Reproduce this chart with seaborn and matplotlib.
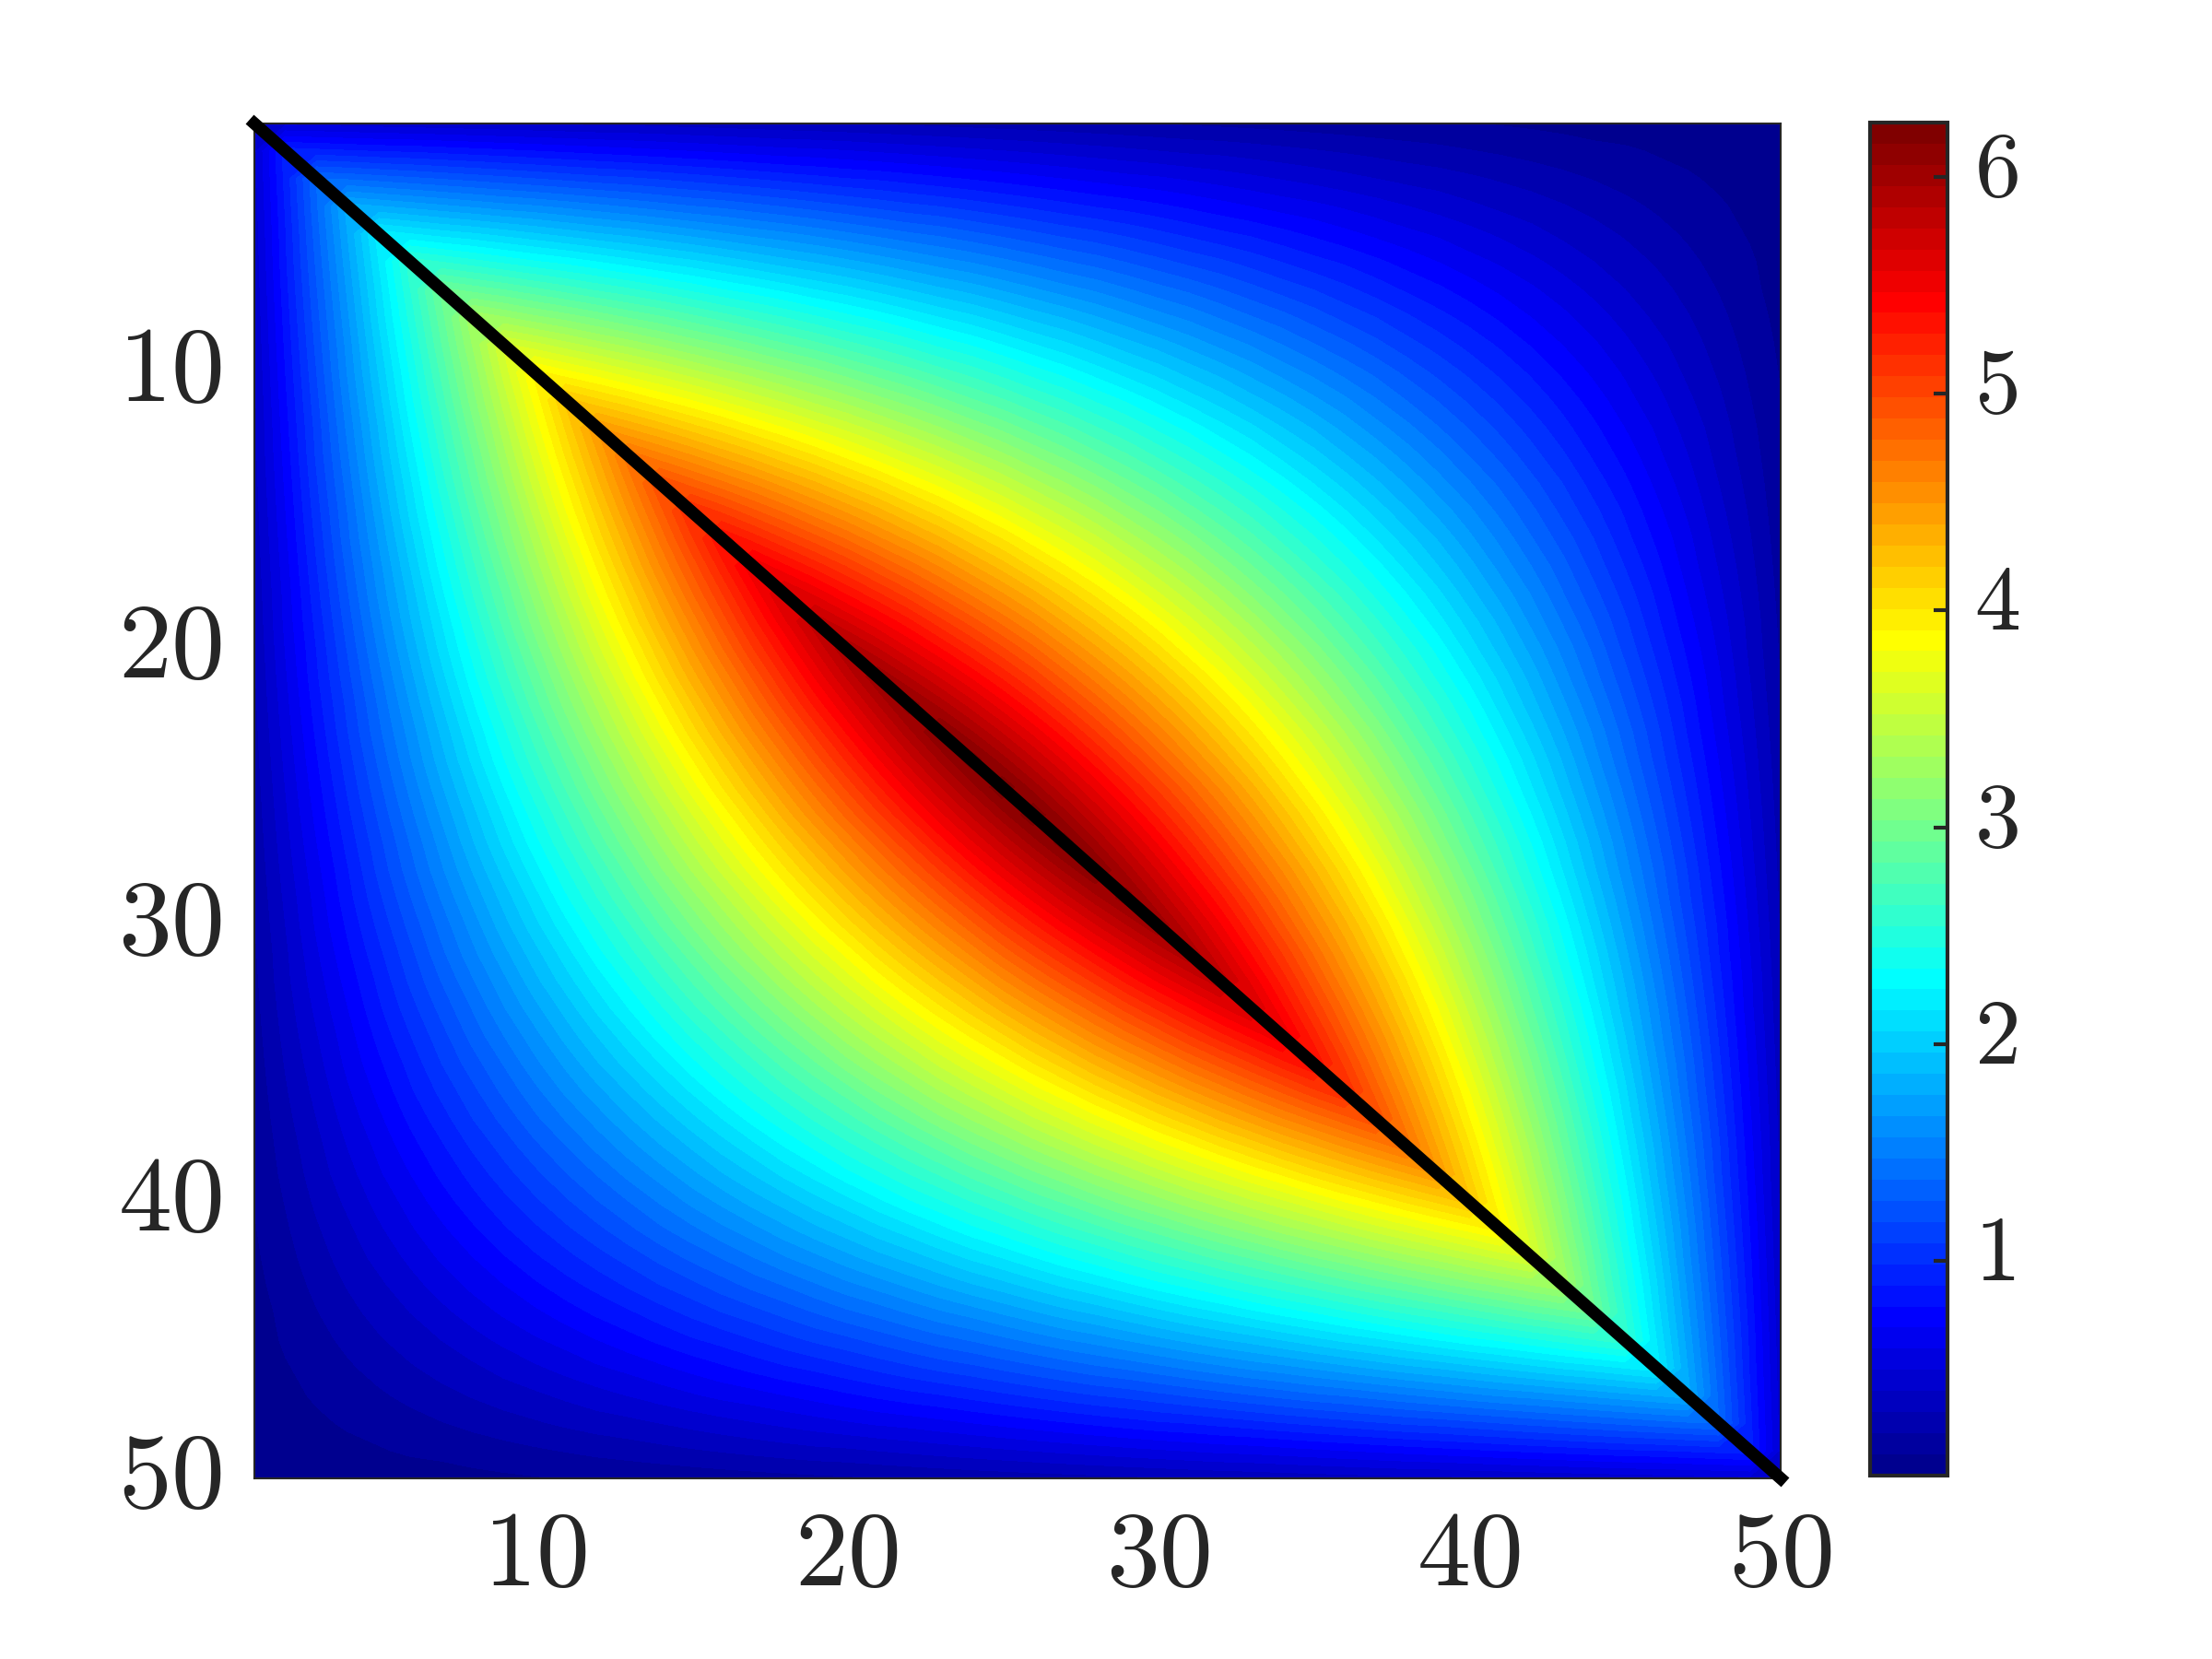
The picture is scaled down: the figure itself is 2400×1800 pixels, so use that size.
"""Symmetric 50 x 50 matrix with a black diagonal, jet colours and colourbar."""
import numpy as np
import seaborn as sns
import matplotlib.pyplot as plt
from matplotlib.colors import LinearSegmentedColormap
from matplotlib.transforms import ScaledTranslation

TICKS = [10, 20, 30, 40, 50]
CBAR_TICKS = [1, 2, 3, 4, 5, 6]
VMIN, VMAX = 0.01, 6.25

# Upper triangle: each row runs from column 50 back to the diagonal
UPPER_ROWS = [
    [.01,.02,.03,.04,.05,.06,.07,.08,.09,.10,.11,.12,.12,.13,.14,.15,.16,.17,.18,.19,.20,.21,.22,.23,.24,.25,.26,.27,.28,.29,.30,.31,.32,.33,.34,.35,.36,.37,.37,.38,.39,.40,.41,.42,.43,.44,.45,.46,.47,.48],
    [.02,.04,.06,.08,.10,.12,.13,.15,.17,.19,.21,.23,.25,.27,.29,.31,.33,.35,.37,.38,.40,.42,.44,.46,.48,.50,.52,.54,.56,.58,.60,.62,.63,.65,.67,.69,.71,.73,.75,.77,.79,.81,.83,.85,.87,.88,.90,.92,.94],
    [.03,.06,.09,.12,.14,.17,.20,.23,.26,.29,.32,.35,.37,.40,.43,.46,.49,.52,.55,.58,.61,.63,.66,.69,.72,.75,.78,.81,.84,.87,.89,.92,.95,.98,1.01,1.04,1.07,1.10,1.12,1.15,1.18,1.21,1.24,1.27,1.30,1.33,1.36,1.38],
    [.04,.08,.12,.15,.19,.23,.27,.31,.35,.38,.42,.46,.50,.54,.58,.62,.65,.69,.73,.77,.81,.85,.88,.92,.96,1.00,1.04,1.08,1.11,1.15,1.19,1.23,1.27,1.31,1.35,1.38,1.42,1.46,1.50,1.54,1.58,1.61,1.65,1.69,1.73,1.77,1.81],
    [.05,.10,.14,.19,.24,.29,.34,.38,.43,.48,.53,.58,.62,.67,.72,.77,.82,.87,.91,.96,1.01,1.06,1.11,1.15,1.20,1.25,1.30,1.35,1.39,1.44,1.49,1.54,1.59,1.63,1.68,1.73,1.78,1.83,1.87,1.92,1.97,2.02,2.07,2.11,2.16,2.21],
    [.06,.12,.17,.23,.29,.35,.40,.46,.52,.58,.63,.69,.75,.81,.87,.92,.98,1.04,1.10,1.15,1.21,1.27,1.33,1.38,1.44,1.50,1.56,1.61,1.67,1.73,1.79,1.85,1.90,1.96,2.02,2.08,2.13,2.19,2.25,2.31,2.36,2.42,2.48,2.54,2.60],
    [.07,.13,.20,.27,.34,.40,.47,.54,.61,.67,.74,.81,.87,.94,1.01,1.08,1.14,1.21,1.28,1.35,1.41,1.48,1.55,1.61,1.68,1.75,1.82,1.88,1.95,2.02,2.09,2.15,2.22,2.29,2.35,2.42,2.49,2.56,2.62,2.69,2.76,2.83,2.89,2.96],
    [.08,.15,.23,.31,.38,.46,.54,.62,.69,.77,.85,.92,1.00,1.08,1.15,1.23,1.31,1.38,1.46,1.54,1.61,1.69,1.77,1.85,1.92,2.00,2.08,2.15,2.23,2.31,2.38,2.46,2.54,2.61,2.69,2.77,2.85,2.92,3.00,3.08,3.15,3.23,3.31],
    [.09,.17,.26,.35,.43,.52,.61,.69,.78,.87,.95,1.04,1.12,1.21,1.30,1.38,1.47,1.56,1.64,1.73,1.82,1.90,1.99,2.08,2.16,2.25,2.34,2.42,2.51,2.60,2.68,2.77,2.85,2.94,3.03,3.11,3.20,3.29,3.37,3.46,3.55,3.63],
    [.10,.19,.29,.38,.48,.58,.67,.77,.87,.96,1.06,1.15,1.25,1.35,1.44,1.54,1.63,1.73,1.83,1.92,2.02,2.11,2.21,2.31,2.40,2.50,2.60,2.69,2.79,2.88,2.98,3.08,3.17,3.27,3.36,3.46,3.56,3.65,3.75,3.84,3.94],
    [.11,.21,.32,.42,.53,.63,.74,.85,.95,1.06,1.16,1.27,1.37,1.48,1.59,1.69,1.80,1.90,2.01,2.11,2.22,2.33,2.43,2.54,2.64,2.75,2.85,2.96,3.07,3.17,3.28,3.38,3.49,3.59,3.70,3.81,3.91,4.02,4.12,4.23],
    [.12,.23,.35,.46,.58,.69,.81,.92,1.04,1.15,1.27,1.38,1.50,1.61,1.73,1.85,1.96,2.08,2.19,2.31,2.42,2.54,2.65,2.77,2.88,3.00,3.11,3.23,3.34,3.46,3.58,3.69,3.81,3.92,4.04,4.15,4.27,4.38,4.50],
    [.12,.25,.37,.50,.62,.75,.87,1.00,1.12,1.25,1.37,1.50,1.62,1.75,1.87,2.00,2.12,2.25,2.37,2.50,2.62,2.75,2.87,3.00,3.12,3.25,3.37,3.50,3.62,3.75,3.87,4.00,4.12,4.25,4.37,4.50,4.62,4.75],
    [.13,.27,.40,.54,.67,.81,.94,1.08,1.21,1.35,1.48,1.61,1.75,1.88,2.02,2.15,2.29,2.42,2.56,2.69,2.83,2.96,3.10,3.23,3.36,3.50,3.63,3.77,3.90,4.04,4.17,4.31,4.44,4.58,4.71,4.84,4.98],
    [.14,.29,.43,.58,.72,.87,1.01,1.15,1.30,1.44,1.59,1.73,1.87,2.02,2.16,2.31,2.45,2.60,2.74,2.88,3.03,3.17,3.32,3.46,3.60,3.75,3.89,4.04,4.18,4.33,4.47,4.61,4.76,4.90,5.05,5.19],
    [.15,.31,.46,.62,.77,.92,1.08,1.23,1.38,1.54,1.69,1.85,2.00,2.15,2.31,2.46,2.61,2.77,2.92,3.08,3.23,3.38,3.54,3.69,3.84,4.00,4.15,4.31,4.46,4.61,4.77,4.92,5.07,5.23,5.38],
    [.16,.33,.49,.65,.82,.98,1.14,1.31,1.47,1.63,1.80,1.96,2.12,2.29,2.45,2.61,2.78,2.94,3.10,3.27,3.43,3.59,3.76,3.92,4.08,4.25,4.41,4.58,4.74,4.90,5.07,5.23,5.39,5.56],
    [.17,.35,.52,.69,.87,1.04,1.21,1.38,1.56,1.73,1.90,2.08,2.25,2.42,2.60,2.77,2.94,3.11,3.29,3.46,3.63,3.81,3.98,4.15,4.33,4.50,4.67,4.84,5.02,5.19,5.36,5.54,5.71],
    [.18,.37,.55,.73,.91,1.10,1.28,1.46,1.64,1.83,2.01,2.19,2.37,2.56,2.74,2.92,3.10,3.29,3.47,3.65,3.84,4.02,4.20,4.38,4.57,4.75,4.93,5.11,5.30,5.48,5.66,5.84],
    [.19,.38,.58,.77,.96,1.15,1.35,1.54,1.73,1.92,2.11,2.31,2.50,2.69,2.88,3.08,3.27,3.46,3.65,3.84,4.04,4.23,4.42,4.61,4.81,5.00,5.19,5.38,5.57,5.77,5.96],
    [.20,.40,.61,.81,1.01,1.21,1.41,1.61,1.82,2.02,2.22,2.42,2.62,2.83,3.03,3.23,3.43,3.63,3.84,4.04,4.24,4.44,4.64,4.84,5.05,5.25,5.45,5.65,5.85,6.06],
    [.21,.42,.63,.85,1.06,1.27,1.48,1.69,1.90,2.11,2.33,2.54,2.75,2.96,3.17,3.38,3.59,3.81,4.02,4.23,4.44,4.65,4.86,5.07,5.29,5.50,5.71,5.92,6.13],
    [.22,.44,.66,.88,1.11,1.33,1.55,1.77,1.99,2.21,2.43,2.65,2.87,3.10,3.32,3.54,3.76,3.98,4.20,4.42,4.64,4.86,5.08,5.31,5.53,5.75,5.97,6.19],
    [.23,.46,.69,.92,1.15,1.38,1.61,1.85,2.08,2.31,2.54,2.77,3.00,3.23,3.46,3.69,3.92,4.15,4.38,4.61,4.84,5.07,5.31,5.54,5.77,6.00,6.23],
    [.24,.48,.72,.96,1.20,1.44,1.68,1.92,2.16,2.40,2.64,2.88,3.12,3.36,3.60,3.84,4.08,4.33,4.57,4.81,5.05,5.29,5.53,5.77,6.01,6.25],
    [.25,.50,.75,1.00,1.25,1.50,1.75,2.00,2.25,2.50,2.75,3.00,3.25,3.50,3.75,4.00,4.25,4.50,4.75,5.00,5.25,5.50,5.75,6.00,6.25],
    [.26,.52,.78,1.04,1.30,1.56,1.82,2.08,2.34,2.60,2.85,3.11,3.37,3.63,3.89,4.15,4.41,4.67,4.93,5.19,5.45,5.71,5.97,6.23],
    [.27,.54,.81,1.08,1.35,1.61,1.88,2.15,2.42,2.69,2.96,3.23,3.50,3.77,4.04,4.31,4.58,4.84,5.11,5.38,5.65,5.92,6.19],
    [.28,.56,.84,1.11,1.39,1.67,1.95,2.23,2.51,2.79,3.07,3.34,3.62,3.90,4.18,4.46,4.74,5.02,5.30,5.57,5.85,6.13],
    [.29,.58,.87,1.15,1.44,1.73,2.02,2.31,2.60,2.88,3.17,3.46,3.75,4.04,4.33,4.61,4.90,5.19,5.48,5.77,6.06],
    [.30,.60,.89,1.19,1.49,1.79,2.09,2.38,2.68,2.98,3.28,3.58,3.87,4.17,4.47,4.77,5.07,5.36,5.66,5.96],
    [.31,.62,.92,1.23,1.54,1.85,2.15,2.46,2.77,3.08,3.38,3.69,4.00,4.31,4.61,4.92,5.23,5.54,5.84],
    [.32,.63,.95,1.27,1.59,1.90,2.22,2.54,2.85,3.17,3.49,3.81,4.12,4.44,4.76,5.07,5.39,5.71],
    [.33,.65,.98,1.31,1.63,1.96,2.29,2.61,2.94,3.27,3.59,3.92,4.25,4.58,4.90,5.23,5.56],
    [.34,.67,1.01,1.35,1.68,2.02,2.35,2.69,3.03,3.36,3.70,4.04,4.37,4.71,5.05,5.38],
    [.35,.69,1.04,1.38,1.73,2.08,2.42,2.77,3.11,3.46,3.81,4.15,4.50,4.84,5.19],
    [.36,.71,1.07,1.42,1.78,2.13,2.49,2.85,3.20,3.56,3.91,4.27,4.62,4.98],
    [.37,.73,1.10,1.46,1.83,2.19,2.56,2.92,3.29,3.65,4.02,4.38,4.75],
    [.37,.75,1.12,1.50,1.87,2.25,2.62,3.00,3.37,3.75,4.12,4.50],
    [.38,.77,1.15,1.54,1.92,2.31,2.69,3.08,3.46,3.84,4.23],
    [.39,.79,1.18,1.58,1.97,2.36,2.76,3.15,3.55,3.94],
    [.40,.81,1.21,1.61,2.02,2.42,2.83,3.23,3.63],
    [.41,.83,1.24,1.65,2.07,2.48,2.89,3.31],
    [.42,.85,1.27,1.69,2.11,2.54,2.96],
    [.43,.87,1.30,1.73,2.16,2.60],
    [.44,.88,1.33,1.77,2.21],
    [.45,.90,1.36,1.81],
    [.46,.92,1.38],
    [.47,.94],
    [.48],
]

DARK = '#262626'
W, H = 2400, 1800


def axes_rect(x0, y0, x1, y1):
    return [x0 / W, 1 - y1 / H, (x1 - x0) / W, (y1 - y0) / H]


def nudge_up(axis, points, fig):
    # tick labels sit a little above their ticks in the original
    shift = ScaledTranslation(0, points / 72, fig.dpi_scale_trans)
    for label in axis.get_ticklabels():
        label.set_transform(label.get_transform() + shift)


def main():
    n = len(UPPER_ROWS)
    matrix = np.zeros((n, n))
    for i, row in enumerate(UPPER_ROWS):
        matrix[i, i:] = row[::-1]
        matrix[i:, i] = row[::-1]

    # MATLAB style jet, 64 levels
    stops = [(0, (0, 0, .5625)), (7 / 63, (0, 0, 1)), (23 / 63, (0, 1, 1)),
             (39 / 63, (1, 1, 0)), (55 / 63, (1, 0, 0)), (1, (.5, 0, 0))]
    jet = LinearSegmentedColormap.from_list('jet64', stops, N=64)

    sns.set_theme(style='white')
    plt.rcParams['mathtext.fontset'] = 'cm'

    fig = plt.figure(figsize=(8, 6), dpi=300)
    ax = fig.add_axes(axes_rect(276, 134, 1932, 1604))
    cax = fig.add_axes(axes_rect(2029, 133, 2113, 1601))

    sns.heatmap(matrix, ax=ax, cbar_ax=cax, cmap=jet, vmin=VMIN, vmax=VMAX,
                xticklabels=False, yticklabels=False)

    # smooth the cells the way the original shading does
    centers = np.arange(n) + 0.5
    ax.contourf(centers, centers, matrix, levels=np.linspace(VMIN, VMAX, 65),
                cmap=jet, vmin=VMIN, vmax=VMAX)
    ax.plot(centers, centers, color='black', lw=3.2, clip_on=False,
            solid_capstyle='projecting', zorder=5)

    ax.set_xlim(centers[0], centers[-1])
    ax.set_ylim(centers[-1], centers[0])
    ax.set_xticks([t - 0.5 for t in TICKS], [f'${t}$' for t in TICKS])
    ax.set_yticks([t - 0.5 for t in TICKS], [f'${t}$' for t in TICKS], rotation=0)
    ax.tick_params(axis='x', length=0, pad=6.8, labelsize=27.8, labelcolor=DARK)
    ax.tick_params(axis='y', length=0, pad=8.3, labelsize=27.8, labelcolor=DARK)
    for spine in ax.spines.values():
        spine.set_visible(True)
        spine.set_color(DARK)
        spine.set_linewidth(0.5)
    nudge_up(ax.yaxis, 3.1, fig)

    cbar = ax.collections[0].colorbar
    cbar.set_ticks(CBAR_TICKS, labels=[f'${t}$' for t in CBAR_TICKS])
    cbar.outline.set_visible(True)
    cbar.outline.set_edgecolor(DARK)
    cbar.outline.set_linewidth(1.0)
    # seaborn's theme puts ticks under the colour strip
    cax.set_axisbelow(False)
    cax.tick_params(axis='y', direction='in', right=True, length=3.6, width=1.0,
                    color=DARK, pad=7, labelsize=24, labelcolor=DARK)
    nudge_up(cax.yaxis, 4.1, fig)

    fig.savefig('out.png', dpi=300)
    plt.close(fig)


if __name__ == '__main__':
    main()
